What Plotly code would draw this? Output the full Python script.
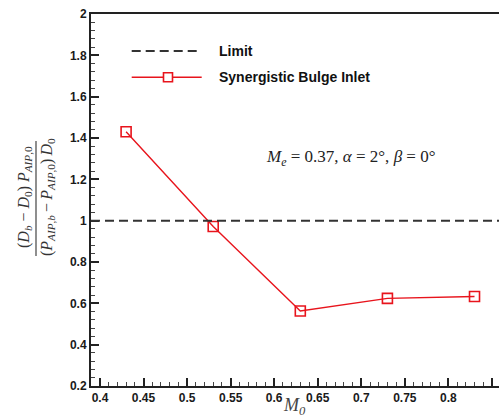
import plotly.graph_objects as go

# ---- data ----
mach = [0.43, 0.53, 0.63, 0.73, 0.83]
ratio = [1.43, 0.972, 0.563, 0.624, 0.633]
limit_value = 1.0
series_name = "Synergistic Bulge Inlet"
limit_name = "Limit"
x_ticks = [0.4, 0.45, 0.5, 0.55, 0.6, 0.65, 0.7, 0.75, 0.8, 0.85]
x_tick_labels = ["0.4", "0.45", "0.5", "0.55", "0.6", "0.65", "0.7", "0.75", "0.8", "0.85"]
y_ticks = [0.2, 0.4, 0.6, 0.8, 1.0, 1.2, 1.4, 1.6, 1.8, 2.0]
y_tick_labels = ["0.2", "0.4", "0.6", "0.8", "1", "1.2", "1.4", "1.6", "1.8", "2"]

W, H = 499, 417
L, R, T, B = 91, 0, 14, 31
PW, PH = W - L - R, H - T - B

def px(x):
    return (x - L) / PW

def py(y):
    return (H - B - y) / PH

RED = "#e8141c"
DARK = "#333333"

fig = go.Figure()
fig.add_trace(go.Scatter(
    x=mach, y=ratio, mode="lines+markers", name=series_name,
    line=dict(color=RED, width=1.4),
    marker=dict(symbol="square-open", size=10, color=RED, line=dict(width=1.6, color=RED)),
    showlegend=False,
))
fig.add_hline(y=limit_value, line=dict(color=DARK, width=2, dash="9px,5px"))

axis_common = dict(
    showline=True, linecolor="#222222", linewidth=2,
    ticks="inside", ticklen=8, tickwidth=2, tickcolor="#222222",
    showgrid=False, zeroline=False,
    tickfont=dict(family="Liberation Sans, Arial, sans-serif", size=12, color="#1a1a1a", weight="bold"),
)
fig.update_xaxes(
    **axis_common, range=[0.3897, 0.8581], tickvals=x_ticks, ticktext=x_tick_labels,
    mirror=True,
    minor=dict(dtick=0.01, ticks="inside", ticklen=4, tickwidth=1, tickcolor="#444444", showgrid=False),
)
fig.update_yaxes(
    **axis_common, range=[0.2, 2.0], tickvals=y_ticks, ticktext=y_tick_labels,
    minor=dict(dtick=0.04, ticks="inside", ticklen=4, tickwidth=1, tickcolor="#444444", showgrid=False),
)

serif = "Liberation Serif, Times New Roman, serif"
sans = "Liberation Sans, Arial, sans-serif"

# custom legend (decoration)
leg_x0, leg_x1 = px(131.7), px(201.7)
fig.add_shape(type="line", xref="paper", yref="paper", x0=leg_x0, x1=leg_x1, y0=py(51), y1=py(51),
              line=dict(color=DARK, width=2, dash="9px,5px"))
fig.add_shape(type="line", xref="paper", yref="paper", x0=leg_x0, x1=leg_x1, y0=py(77.3), y1=py(77.3),
              line=dict(color=RED, width=1.4))
fig.add_shape(type="rect", xref="paper", yref="paper", x0=px(163.5), x1=px(172.5), y0=py(81.8), y1=py(72.8),
              line=dict(color=RED, width=1.6), fillcolor="white")
fig.add_annotation(xref="paper", yref="paper", x=px(217), y=py(51), text=limit_name, showarrow=False,
                   xanchor="left", yanchor="middle", font=dict(family=sans, size=14, color="#111111", weight="bold"))
fig.add_annotation(xref="paper", yref="paper", x=px(217), y=py(77.3), text=series_name, showarrow=False,
                   xanchor="left", yanchor="middle", font=dict(family=sans, size=14, color="#111111", weight="bold"))

# condition text
fig.add_annotation(xref="paper", yref="paper", x=px(350), y=py(158),
                   text="<i>M</i><sub><i>e</i></sub> = 0.37, <i>α</i> = 2°, <i>β</i> = 0°",
                   showarrow=False, xanchor="center", yanchor="middle",
                   font=dict(family=serif, size=17, color="#222222"))

# x-axis title
fig.add_annotation(xref="paper", yref="paper", x=px(294), y=py(406),
                   text="<i>M</i><sub><i>0</i></sub>", showarrow=False, xanchor="center", yanchor="middle",
                   font=dict(family=serif, size=18, color="#444444"))

# y-axis title as fraction
fig.add_annotation(xref="paper", yref="paper", x=px(24), y=py(197), textangle=-90,
                   text="(<i>D</i><sub><i>b</i></sub> − <i>D</i><sub>0</sub>) <i>P</i><sub><i>AIP</i>,0</sub>",
                   showarrow=False, xanchor="center", yanchor="middle",
                   font=dict(family=serif, size=16, color="#333333"))
fig.add_annotation(xref="paper", yref="paper", x=px(47), y=py(197), textangle=-90,
                   text="(<i>P</i><sub><i>AIP</i>,<i>b</i></sub>\u2009−\u2009<i>P</i><sub><i>AIP</i>,0</sub>)\u2009<i>D</i><sub>0</sub>",
                   showarrow=False, xanchor="center", yanchor="middle",
                   font=dict(family=serif, size=16, color="#333333"))
fig.add_shape(type="line", xref="paper", yref="paper", x0=px(36), x1=px(36), y0=py(141), y1=py(256),
              line=dict(color="#444444", width=1.2))

fig.update_layout(
    width=W, height=H, margin=dict(l=L, r=R, t=T, b=B),
    paper_bgcolor="white", plot_bgcolor="white", showlegend=False,
)

fig.write_html("out.html")
